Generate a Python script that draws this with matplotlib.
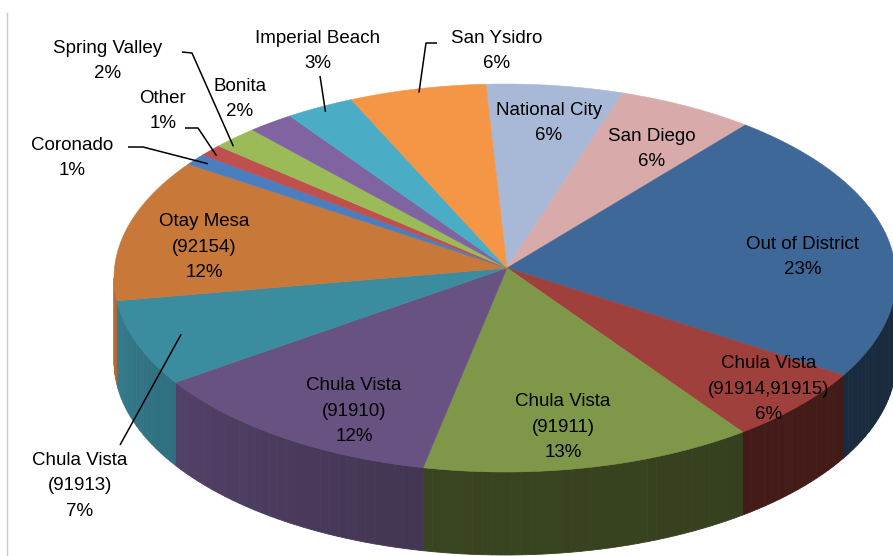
import numpy as np
import matplotlib
matplotlib.use("Agg")
import matplotlib.pyplot as plt
from matplotlib.patches import Polygon

# slices, clockwise from 12 o'clock
labels = ["National City", "San Diego", "Out of District",
          "Chula Vista\n(91914,91915)", "Chula Vista\n(91911)",
          "Chula Vista\n(91910)", "Chula Vista\n(91913)",
          "Otay Mesa\n(92154)", "Coronado", "Other", "Spring Valley",
          "Bonita", "Imperial Beach", "San Ysidro"]
shares = [6, 6, 23, 6, 13, 12, 7, 12, 1, 1, 2, 2, 3, 6]

colors = ["#a8b9d8", "#d9aaaa", "#3e6898", "#a0403c", "#7f9748",
          "#685282", "#3c8ca0", "#c87838", "#4a7ebe", "#c0504d",
          "#9bbb59", "#8064a2", "#4bacc6", "#f59646"]

# label block centres (pixel layout) and leader elbows for outside labels
label_pos = [(549, 123), (652, 149), (803, 257), (769, 389), (563, 427),
             (354, 411), (80, 486), (204, 247), (72, 158), (163, 111),
             (108, 61), (240, 99), (318, 51), (497, 51)]
leaders = {6: [(120, 445)], 8: [(128, 147), (143, 147)],
           9: [(185, 128), (198, 128)], 10: [(182, 52), (192, 53)],
           12: [(320, 76)], 13: [(437, 43), (426, 43)]}
# where along the slice (0 = start, 1 = end) and how deep the leader ends
leader_frac = {6: 0.5, 8: 0.5, 9: 0.3, 10: 0.2, 12: 0.5, 13: 0.5}
leader_in = {6: 0.88, 8: 0.96, 9: 0.97, 10: 0.97, 12: 0.97, 13: 0.98}

# geometry of the tilted pie
cx, cy, a, b = 505, 278, 391, 194
apex = (507, 268)
depth = 83
start = -3.0
skew = 3.5   # small angular warp, like excel's perspective


def warp(t):
    return t - skew * np.sin(np.radians(t))


def rim(t):
    r = np.radians(t)
    return cx + a * np.sin(r), cy - b * np.cos(r)


def shade(t, lit):
    # walls facing left catch the light, the rest are in shadow
    if lit:
        return min(0.9, 0.64 + 0.26 * (t - 192) / 78)
    return 0.45 - 0.05 * (192 - t) / 102


def darker(c, f):
    rgb = np.array(matplotlib.colors.to_rgb(c))
    return tuple(rgb * f)


fig = plt.figure(figsize=(8.93, 5.56), dpi=100)
ax = fig.add_axes([0, 0, 1, 1])
ax.set_xlim(0, 893)
ax.set_ylim(556, 0)
ax.axis("off")

cum = np.concatenate([[0], np.cumsum(shares)]) / sum(shares) * 360 + start
cumw = warp(cum)

# side walls (front half only)
for i in range(len(shares)):
    s, e = max(cumw[i], 90), min(cumw[i + 1], 270)
    if e <= s:
        continue
    lit = cumw[i + 1] > 200
    ts = np.linspace(s, e, max(2, int((e - s) / 1.5) + 2))
    for t0, t1 in zip(ts[:-1], ts[1:]):
        x0, y0 = rim(t0)
        x1, y1 = rim(t1)
        col = darker(colors[i], shade((t0 + t1) / 2, lit))
        ax.add_patch(Polygon([(x0, y0), (x1, y1), (x1, y1 + depth), (x0, y0 + depth)],
                             closed=True, facecolor=col, edgecolor=col, lw=0.6, zorder=1))

# top faces
for i in range(len(shares)):
    ts = np.linspace(cumw[i], cumw[i + 1], 60)
    pts = [apex] + [rim(t) for t in ts]
    ax.add_patch(Polygon(pts, closed=True, facecolor=colors[i],
                         edgecolor=colors[i], lw=0.4, zorder=2))

font = ["Liberation Sans", "DejaVu Sans"]
for i, lab in enumerate(labels):
    x, y = label_pos[i]
    ax.text(x, y, f"{lab}\n{shares[i]}%", ha="center", va="center",
            fontsize=13.5, family=font, linespacing=1.62, zorder=4)
    if i in leaders:
        f = leader_frac[i]
        t = cumw[i] + (cumw[i + 1] - cumw[i]) * f
        rx, ry = rim(t)
        k = leader_in[i]
        end = (apex[0] + (rx - apex[0]) * k, apex[1] + (ry - apex[1]) * k)
        pts = leaders[i] + [end]
        ax.plot([p[0] for p in pts], [p[1] for p in pts], color="black",
                lw=1.1, zorder=3, solid_capstyle="butt")

# frame edge on the left
ax.plot([7, 7], [13, 556], color="#c8c8c8", lw=1, zorder=0)

fig.savefig("out.png", dpi=100)
